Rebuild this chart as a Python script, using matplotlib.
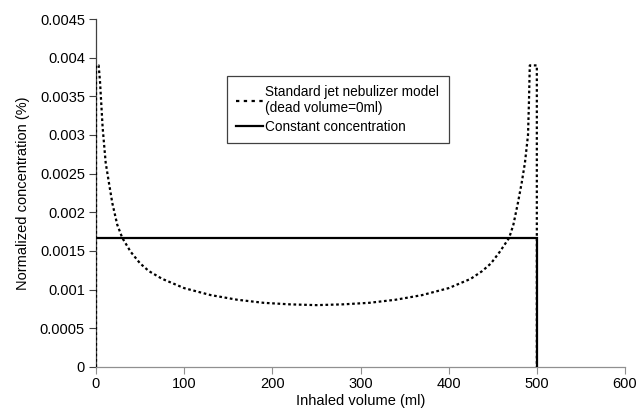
import matplotlib
matplotlib.use("Agg")
import matplotlib.pyplot as plt
from matplotlib.lines import Line2D
from matplotlib.ticker import FixedLocator

plt.rcParams['font.family'] = ['Liberation Sans', 'DejaVu Sans']

# Standard jet nebulizer model (dead volume = 0 ml)
model_x = [0, 0, 3, 4.5, 6, 7.5, 9, 11, 14.7, 18.5, 24.1, 29.8, 39.3, 50, 60, 75, 100,
           130, 160, 190, 220, 250, 280, 310, 340, 370, 400, 425, 438, 448,
           458, 468.6, 473.4, 478.5, 482.8, 486.5, 490, 491, 492, 500, 500]
model_y = [0, 0.0039, 0.0039, 0.0037, 0.0034, 0.0031, 0.0029, 0.00264, 0.00238, 0.00212,
           0.00184, 0.00167, 0.00149, 0.00134, 0.00124, 0.00114, 0.00102,
           0.00093, 0.00087, 0.00083, 0.00081, 0.0008, 0.00081, 0.00083, 0.00087,
           0.00093, 0.00102, 0.00114, 0.00124, 0.00134,
           0.00149, 0.00167, 0.00184, 0.00212, 0.00238, 0.00264, 0.0030, 0.0034, 0.0039,
           0.0039, 0]

# Constant concentration
const_x = [0, 500, 500]
const_y = [0.001667, 0.001667, 0]

y_ticks = [0, 0.0005, 0.001, 0.0015, 0.002, 0.0025, 0.003, 0.0035, 0.004, 0.0045]
y_labels = ['0', '0.0005', '0.001', '0.0015', '0.002', '0.0025', '0.003', '0.0035', '0.004', '0.0045']
x_ticks = [0, 100, 200, 300, 400, 500, 600]

fig = plt.figure(figsize=(6.37, 4.12), dpi=100)
ax = fig.add_axes([96/637, 1 - 367/412, 529/637, 348/412])

ax.plot(const_x, const_y, color='black', lw=1.6, solid_joinstyle='miter', zorder=3)
ax.plot(model_x, model_y, color='black', lw=1.6, linestyle=(0, (1.2, 1.2)), zorder=4)

ax.set_xlim(0, 600)
ax.set_ylim(0, 0.0045)
ax.yaxis.set_major_locator(FixedLocator(y_ticks))
ax.set_yticklabels(y_labels)
ax.xaxis.set_major_locator(FixedLocator(x_ticks))

for s in ['top', 'right']:
    ax.spines[s].set_visible(False)
ax.spines['left'].set_color('#404040')
ax.spines['bottom'].set_color('#909090')
ax.spines['left'].set_linewidth(0.9)
ax.spines['bottom'].set_linewidth(0.9)
ax.tick_params(axis='y', direction='out', length=5, width=0.8, color='#404040', labelsize=10.5, pad=3)
ax.tick_params(axis='x', direction='out', length=5, width=0.8, color='#909090', labelsize=10.5, pad=2)

ax.set_xlabel('Inhaled volume (ml)', fontsize=10.5, labelpad=2)
ax.set_ylabel('Normalized concentration (%)', fontsize=10.5, labelpad=7)

handles = [Line2D([], [], color='black', lw=1.6, linestyle=(0, (1.5, 2))),
           Line2D([], [], color='black', lw=1.6)]
labels = ['Standard jet nebulizer model\n(dead volume=0ml)', 'Constant concentration']
leg = ax.legend(handles, labels, loc='upper left',
                bbox_to_anchor=((226.7 - 96) / 529, (367 - 75.7) / 348),
                borderaxespad=0, fancybox=False, framealpha=1, edgecolor='#404040',
                fontsize=9.8, handlelength=2.0, handletextpad=0.15, borderpad=0.7,
                labelspacing=0.3)
leg.get_frame().set_linewidth(0.9)

fig.savefig('out.png', dpi=100)
